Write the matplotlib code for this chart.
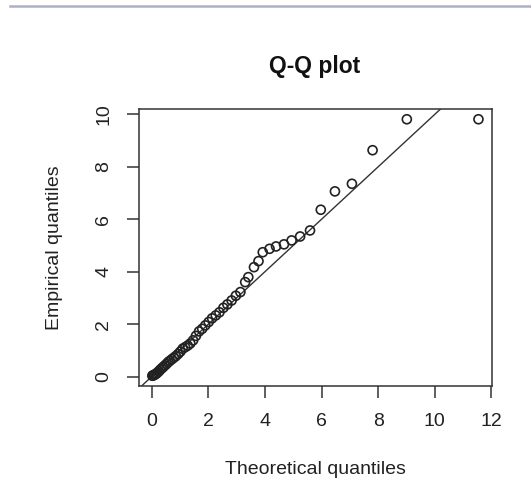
import matplotlib
matplotlib.use("Agg")
import matplotlib.pyplot as plt
from matplotlib.lines import Line2D

theoretical = [0.02, 0.04, 0.07, 0.10, 0.13, 0.17, 0.21, 0.25, 0.30, 0.35,
               0.40, 0.46, 0.52, 0.58, 0.64, 0.71, 0.78, 0.85, 0.93, 1.01,
               1.09, 1.18, 1.27, 1.36, 1.46, 1.56, 1.67, 1.78, 1.89, 2.01,
               2.13, 2.26, 2.39, 2.53, 2.67, 2.82, 2.97, 3.13, 3.30, 3.41,
               3.61, 3.77, 3.92, 4.16, 4.39, 4.67, 4.94, 5.24, 5.59, 5.97,
               6.47, 7.07, 7.80, 9.01, 11.54]
empirical = [0.03, 0.04, 0.05, 0.07, 0.09, 0.12, 0.16, 0.20, 0.26, 0.31,
             0.36, 0.42, 0.48, 0.55, 0.60, 0.66, 0.72, 0.78, 0.86, 0.95,
             1.06, 1.12, 1.18, 1.26, 1.38, 1.55, 1.72, 1.82, 1.95, 2.08,
             2.22, 2.33, 2.45, 2.62, 2.75, 2.90, 3.08, 3.22, 3.60, 3.79,
             4.17, 4.40, 4.74, 4.87, 4.96, 5.04, 5.19, 5.34, 5.57, 6.36,
             7.06, 7.35, 8.63, 9.81, 9.81]
x_ticks = [0, 2, 4, 6, 8, 10, 12]
y_ticks = [0, 2, 4, 6, 8, 10]
ref_intercept, ref_slope = 0.0, 1.0

plt.rcParams['font.family'] = ['Liberation Sans', 'DejaVu Sans']

W, H = 531, 497
fig = plt.figure(figsize=(W / 100, H / 100), dpi=100)
ax = fig.add_axes([139.3 / W, 1 - 386 / H, (491.5 - 139.3) / W, (386 - 109) / H])

ax.scatter(theoretical, empirical, s=42, facecolors='none', edgecolors='#222222',
           linewidths=1.2, zorder=3)

def r_lim(v):
    lo, hi = min(v), max(v)
    r = hi - lo
    return lo - 0.04 * r, hi + 0.04 * r

ax.set_xlim(r_lim(theoretical))
ax.set_ylim(r_lim(empirical))
ax.axline((0, ref_intercept), slope=ref_slope, color='#333333', lw=1.0, zorder=2)

ax.set_xticks(x_ticks)
ax.set_yticks(y_ticks)
ax.set_xticklabels([str(t) for t in x_ticks])
ax.set_yticklabels([str(t) for t in y_ticks], rotation=90, va='center')
ax.tick_params(axis='both', direction='out', length=8.5, width=1.1, color='#333333',
               labelsize=14, labelcolor='#222222', pad=11)
for sp in ax.spines.values():
    sp.set_color('#333333')
    sp.set_linewidth(1.1)

fig.text(315 / W, 1 - 66 / H, 'Q-Q plot', ha='center', va='center', fontsize=16.5,
         fontweight='bold', color='#111111')
fig.text(315 / W, 1 - 470 / H, 'Theoretical quantiles', ha='center', va='center',
         fontsize=14, color='#222222')
fig.text(55 / W, 1 - 247.5 / H, 'Empirical quantiles', ha='center', va='center',
         fontsize=14, rotation=90, color='#222222')

fig.add_artist(Line2D([10 / W, 1], [1 - 5.5 / H, 1 - 5.5 / H], transform=fig.transFigure,
                      color='#a7b2c6', lw=1.8))

fig.savefig('out.png', dpi=100)
